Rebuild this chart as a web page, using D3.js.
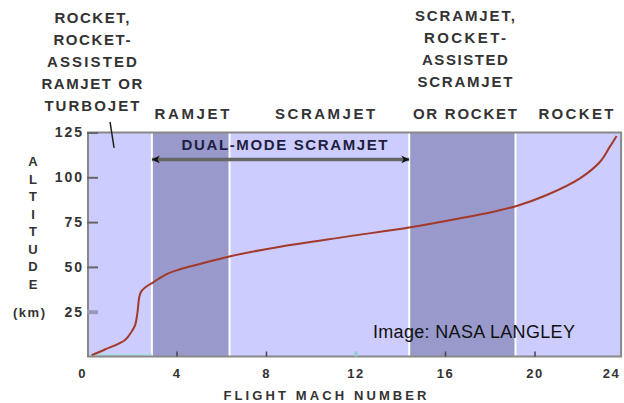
<!DOCTYPE html>
<html><head><meta charset="utf-8">
<script src="https://cdn.jsdelivr.net/npm/d3@7"></script>
<style>
body{margin:0;background:#fff}
svg{display:block;font-family:"Liberation Sans",Arial,sans-serif}
</style></head><body>
<svg id="c" width="624" height="403"></svg>
<script>
// ---------- data ----------
const machTicks = [0, 4, 8, 12, 16, 20, 24];
const altTicks = [25, 50, 75, 100, 125];
const bandEdges = [0, 2.9, 6.37, 14.4, 19.15, 23.87];
const bandShade = ["light", "dark", "light", "dark", "light"];
const curveMach = [0.21, 0.80, 1.70, 2.01, 2.15, 2.25, 2.34, 2.44, 2.67, 2.96, 3.56, 4.16, 5.05, 6.32, 8.63, 11.61, 14.46, 16.67, 18.16, 19.20, 20.55, 22.03, 22.93, 23.37, 23.67];
const curveAlt  = [0.8, 3.9, 9.2, 14.2, 17.5, 24.1, 33.4, 36.6, 39.2, 41.4, 46.0, 48.7, 51.6, 55.7, 61.3, 66.9, 72.1, 77.1, 80.8, 84.0, 90.1, 99.4, 108.7, 117.1, 123.0];
const dualModeRange = [2.9, 14.4];
const dualModeAlt = 110;
const dualModeLabel = "DUAL-MODE SCRAMJET";
const leftStack = ["ROCKET,", "ROCKET-", "ASSISTED", "RAMJET OR", "TURBOJET"];
const rightStack = ["SCRAMJET,", "ROCKET-", "ASSISTED", "SCRAMJET", "OR ROCKET"];
const rowLabels = ["RAMJET", "SCRAMJET", "ROCKET"];
const leaderMach = [1.03, 1.21];
const leaderAlt = [130.9, 116.4];
const yTitleLetters = ["A", "L", "T", "I", "T", "U", "D", "E"];
const yUnit = "(km)";
const xTitle = "FLIGHT MACH NUMBER";
const credit = "Image: NASA LANGLEY";

// ---------- layout / style ----------
const leftStackMach = 0.22, rightStackMach = 16.89, rowMach = [4.69, 10.64, 21.85];
const leftStackW = [75, 77, 90, 101, 95];
const rightStackW = [100, 82, 86, 95, 104];
const rowW = [75, 100, 75];
const txt = "#333";

const svg = d3.select("#c");
const x = d3.scaleLinear().domain([0, 24]).range([87, 624]);
const y = d3.scaleLinear().domain([0, 125]).range([356.5, 132.5]);

const defs = svg.append("defs");
defs.append("marker").attr("id", "ah").attr("viewBox", "0 0 10 10")
  .attr("refX", 10).attr("refY", 5).attr("markerUnits", "userSpaceOnUse")
  .attr("markerWidth", 11).attr("markerHeight", 8).attr("orient", "auto-start-reverse")
  .append("path").attr("d", "M0,0 L10,5 L0,10 L3,5 Z").attr("fill", "#111");

// bands
svg.append("g").selectAll("rect").data(d3.pairs(bandEdges)).join("rect")
  .attr("x", d => x(d[0])).attr("width", d => x(d[1]) - x(d[0]))
  .attr("y", y(125)).attr("height", y(0) - y(125))
  .attr("fill", (d, i) => bandShade[i] === "dark" ? "#9999cc" : "#ccccff");

svg.append("g").selectAll("line").data(bandEdges.slice(1, -1)).join("line")
  .attr("x1", d => x(d)).attr("x2", d => x(d))
  .attr("y1", y(125)).attr("y2", y(0))
  .attr("stroke", "#fff").attr("stroke-width", 2);

// light cyan strip along the baseline of the first band
svg.append("line").attr("x1", x(0)).attr("x2", x(bandEdges[1]))
  .attr("y1", y(0) - 2).attr("y2", y(0) - 2)
  .attr("stroke", "#a8dede").attr("stroke-width", 1.5);

// border
svg.append("rect").attr("x", x(0) + 1).attr("y", y(125))
  .attr("width", x(bandEdges[bandEdges.length - 1]) - x(0) - 1).attr("height", y(0) - y(125))
  .attr("fill", "none").attr("stroke", "#888").attr("stroke-width", 2);

// y axis
const gy = svg.append("g").attr("transform", `translate(${x(0)},0)`)
  .call(d3.axisLeft(y).tickValues(altTicks).tickSizeInner(-11).tickSizeOuter(0).tickPadding(3));
gy.select(".domain").remove();
gy.selectAll(".tick line").attr("stroke", d => d === 25 ? "#9a9ab8" : "#666")
  .attr("stroke-width", d => d === 25 ? 4 : 2);
gy.selectAll(".tick text").attr("font-size", 14).attr("font-weight", "bold")
  .attr("fill", txt).style("letter-spacing", "2px").attr("font-family", null);

// x axis
const gx = svg.append("g").attr("transform", `translate(0,${y(0)})`)
  .call(d3.axisBottom(x).tickValues(machTicks).tickSizeInner(-5).tickSizeOuter(0).tickPadding(12));
gx.select(".domain").remove();
gx.selectAll(".tick line").attr("stroke", d => d === 12 ? "#8ccccc" : "#445")
  .attr("stroke-width", d => d === 12 ? 3 : 1.5)
  .attr("display", d => (d === 0 || d === 24) ? "none" : null);
gx.selectAll(".tick text").attr("font-size", 13).attr("font-weight", "bold")
  .attr("fill", txt).style("letter-spacing", "1.5px").attr("font-family", null)
  .attr("dx", d => d === 0 ? -5 : d === 24 ? -13 : 0);

// curve
const pts = curveMach.map((m, i) => [m, curveAlt[i]]);
svg.append("path").datum(pts)
  .attr("d", d3.line().x(d => x(d[0])).y(d => y(d[1])).curve(d3.curveCatmullRom.alpha(0.5)))
  .attr("fill", "none").attr("stroke", "#a3392a").attr("stroke-width", 2);

// dual-mode arrow
svg.append("line")
  .attr("x1", x(dualModeRange[0])).attr("x2", x(dualModeRange[1]))
  .attr("y1", y(dualModeAlt)).attr("y2", y(dualModeAlt))
  .attr("stroke", "#666").attr("stroke-width", 3.5)
  .attr("marker-start", "url(#ah)").attr("marker-end", "url(#ah)");
svg.append("text").text(dualModeLabel)
  .attr("x", (x(dualModeRange[0]) + x(dualModeRange[1])) / 2 + 4).attr("y", y(dualModeAlt) - 9)
  .attr("text-anchor", "middle").attr("font-size", 15).attr("font-weight", "bold")
  .attr("fill", "#1e1e40").attr("textLength", 206).attr("lengthAdjust", "spacing");

// leader tick
svg.append("line").attr("x1", x(leaderMach[0])).attr("x2", x(leaderMach[1]))
  .attr("y1", y(leaderAlt[0])).attr("y2", y(leaderAlt[1]))
  .attr("stroke", "#222").attr("stroke-width", 1.5);

// top labels
function topText(str, cx, by, w) {
  svg.append("text").text(str).attr("x", cx).attr("y", by)
    .attr("text-anchor", "middle").attr("font-size", 15).attr("font-weight", "bold")
    .attr("fill", txt).attr("textLength", w).attr("lengthAdjust", "spacing");
}
leftStack.forEach((s, i) => topText(s, x(leftStackMach), 23 + 22 * i, leftStackW[i]));
rightStack.forEach((s, i) => topText(s, x(rightStackMach), i < 4 ? 21 + 22 * i : 119, rightStackW[i]));
rowLabels.forEach((s, i) => topText(s, x(rowMach[i]), 119, rowW[i]));

// y title
svg.append("g").selectAll("text").data(yTitleLetters).join("text")
  .text(d => d).attr("x", 33).attr("y", (d, i) => 166 + 17.5 * i)
  .attr("text-anchor", "middle").attr("font-size", 13).attr("font-weight", "bold").attr("fill", txt);
svg.append("text").text(yUnit).attr("x", 29).attr("y", y(25) + 5)
  .attr("text-anchor", "middle").attr("font-size", 13).attr("font-weight", "bold")
  .attr("fill", txt).attr("textLength", 32).attr("lengthAdjust", "spacing");

// x title
svg.append("text").text(xTitle).attr("x", 325).attr("y", 400)
  .attr("text-anchor", "middle").attr("font-size", 13).attr("font-weight", "bold")
  .attr("fill", txt).attr("textLength", 203).attr("lengthAdjust", "spacing");

// credit
svg.append("text").text(credit).attr("x", x(12.78)).attr("y", y(10.3))
  .attr("font-size", 18).attr("fill", "#111")
  .attr("textLength", 202).attr("lengthAdjust", "spacing");
</script>
</body></html>
